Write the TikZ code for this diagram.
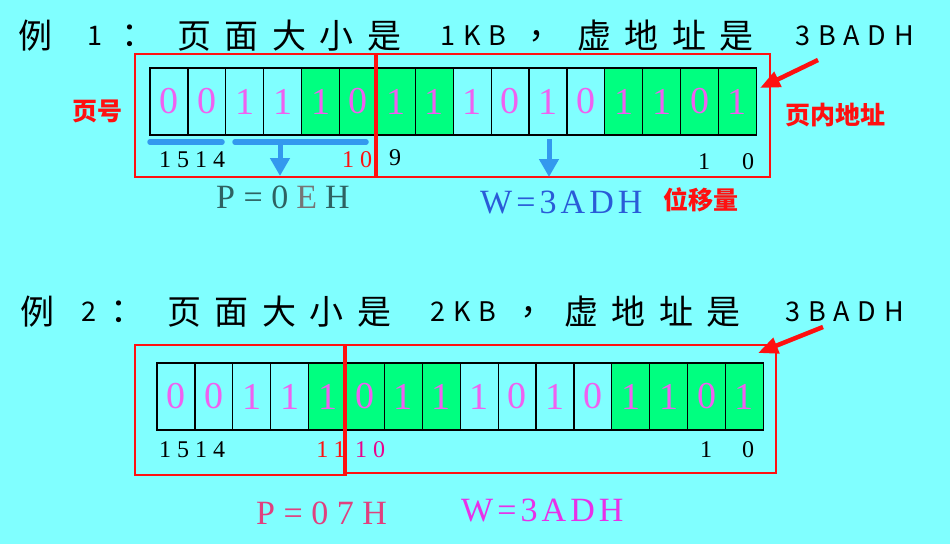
\documentclass[tikz,border=0pt]{standalone}
\usepackage{fontspec}
\usepackage{tikz}
\usetikzlibrary{positioning, arrows.meta}
\newfontfamily\cjk{Noto Sans CJK SC}
\newfontfamily\cjkwide[LetterSpace=40]{Noto Sans CJK SC}
\newfontfamily\cjklat[LetterSpace=29]{Noto Sans CJK SC}
\newfontfamily\serifwide[LetterSpace=25]{Liberation Serif}
\newfontfamily\seriftight[LetterSpace=12]{Liberation Serif}
\newfontfamily\digitfont{Liberation Serif}
\definecolor{bgcyan}{HTML}{80FFFF}
\definecolor{cellgreen}{HTML}{00FF80}
\definecolor{bitpink}{HTML}{F060F0}
\definecolor{boxred}{HTML}{FF1010}
\definecolor{barblue}{HTML}{3399EE}
\definecolor{pteal}{HTML}{2E6262}
\definecolor{pgray}{HTML}{767676}
\definecolor{wblue}{HTML}{2A5BD7}
\definecolor{pred}{HTML}{E0407F}
\definecolor{wmag}{HTML}{E830E8}

\tikzset{
  cell/.style={draw, line width=1.2pt, minimum width=37.9pt, minimum height=67pt,
    inner sep=0pt, outer sep=0pt, text=bitpink, font=\digitfont\fontsize{38}{38}\selectfont},
  lit/.style={cell, fill=bgcyan},
  grn/.style={cell, fill=cellgreen},
  ttl/.style={inner sep=0pt, font=\cjkwide\fontsize{34}{34}\selectfont},
  ttlat/.style={inner sep=0pt, font=\cjklat\fontsize{27}{27}\selectfont},
  bitno/.style={inner sep=0pt, font=\serifwide\fontsize{24}{24}\selectfont},
  result/.style={inner sep=0pt, anchor=west, font=\serifwide\fontsize{34}{34}\selectfont},
  wresult/.style={inner sep=0pt, anchor=west, font=\seriftight\fontsize{34}{34}\selectfont},
  tag/.style={inner sep=0pt, text=boxred, font=\cjk\bfseries\fontsize{25}{25}\selectfont},
  redbox/.style={draw=boxred, line width=2.5pt},
  divider/.style={draw=boxred, line width=4.5pt},
  ubar/.style={draw=barblue, line width=5.5pt, line cap=round},
  barrow/.style={draw=barblue, line width=5pt, -{Triangle[length=18pt,width=19pt]}},
  rarrow/.style={draw=boxred, line width=4.5pt, -{Triangle[length=20pt,width=16pt]}}
}

\begin{document}
\begin{tikzpicture}[x=1pt, y=-1pt]
  \fill[bgcyan] (0,0) rectangle (950,544);
  \useasboundingbox (0,0) rectangle (950,544);

  % example 1
  \node[ttl, anchor=west]   (t1a) at (18,36)  {例};
  \node[ttlat, anchor=west] (t1b) at (87,36)  {1};
  \node[ttl]                (t1c) at (138,36) {：};
  \node[ttl, anchor=west]   (t1d) at (177,36) {页面大小是};
  \node[ttlat, anchor=west] (t1e) at (440,36) {1KB};
  \node[ttl]                (t1f) at (545,36) {，};
  \node[ttl, anchor=west]   (t1g) at (577,36) {虚地址是};
  \node[ttlat, anchor=west] (t1h) at (795,36) {3BADH};

  \node[lit] (a0) at (168.95,101.5) {0};
  \node[lit, right=0pt of a0]  (a1)  {0};
  \node[lit, right=0pt of a1]  (a2)  {1};
  \node[lit, right=0pt of a2]  (a3)  {1};
  \node[grn, right=0pt of a3]  (a4)  {1};
  \node[grn, right=0pt of a4]  (a5)  {0};
  \node[grn, right=0pt of a5]  (a6)  {1};
  \node[grn, right=0pt of a6]  (a7)  {1};
  \node[lit, right=0pt of a7]  (a8)  {1};
  \node[lit, right=0pt of a8]  (a9)  {0};
  \node[lit, right=0pt of a9]  (a10) {1};
  \node[lit, right=0pt of a10] (a11) {0};
  \node[grn, right=0pt of a11] (a12) {1};
  \node[grn, right=0pt of a12] (a13) {1};
  \node[grn, right=0pt of a13] (a14) {0};
  \node[grn, right=0pt of a14] (a15) {1};

  \draw[redbox] (135,54) rectangle (376,177);
  \draw[redbox] (376,54) rectangle (770,177);
  \draw[divider] (376,53) -- (376,178);

  \coordinate (u1s) at (150,142);
  \coordinate (u1e) at (222,142);
  \coordinate (u2s) at (235,142);
  \coordinate (u2e) at (366,142);
  \draw[ubar] (u1s) -- (u1e);
  \draw[ubar] (u2s) -- (u2e);
  \coordinate (p1top) at (280,142);
  \coordinate (p1tip) at (280,176);
  \draw[barrow] (p1top) -- (p1tip);
  \coordinate (w1top) at (549,139);
  \coordinate (w1tip) at (549,177);
  \draw[barrow] (w1top) -- (w1tip);

  \node[bitno] (n1a) at (192,160) {1514};
  \node[bitno, text=boxred] (n1b) at (357,160) {10};
  \node[bitno] (n1c) at (395,158) {9};
  \node[bitno] (n1d) at (704,162) {1};
  \node[bitno] (n1e) at (748,162) {0};

  \node[result, text=pteal] (pg1) at (216,197) {P=0\kern8pt\textcolor{pgray}{E}\kern8pt H};
  \node[wresult, text=wblue] (wd1) at (480,202) {W=3ADH};

  \node[tag] (lab1) at (97,111)  {页号};
  \node[tag] (lab2) at (835,115) {页内地址};
  \node[tag] (lab3) at (701,200) {位移量};

  \coordinate (r1s) at (818,60);
  \coordinate (r1t) at (760,88);
  \draw[rarrow] (r1s) -- (r1t);

  % example 2
  \node[ttl, anchor=west]   (t2a) at (20,312)  {例};
  \node[ttlat, anchor=west] (t2b) at (81,312)  {2};
  \node[ttl]                (t2c) at (127,312) {：};
  \node[ttl, anchor=west]   (t2d) at (167,312) {页面大小是};
  \node[ttlat, anchor=west] (t2e) at (430,312) {2KB};
  \node[ttl]                (t2f) at (537,312) {，};
  \node[ttl, anchor=west]   (t2g) at (564,312) {虚地址是};
  \node[ttlat, anchor=west] (t2h) at (785,312) {3BADH};

  \node[lit] (b0) at (175.95,396.5) {0};
  \node[lit, right=0pt of b0]  (b1)  {0};
  \node[lit, right=0pt of b1]  (b2)  {1};
  \node[lit, right=0pt of b2]  (b3)  {1};
  \node[grn, right=0pt of b3]  (b4)  {1};
  \node[grn, right=0pt of b4]  (b5)  {0};
  \node[grn, right=0pt of b5]  (b6)  {1};
  \node[grn, right=0pt of b6]  (b7)  {1};
  \node[lit, right=0pt of b7]  (b8)  {1};
  \node[lit, right=0pt of b8]  (b9)  {0};
  \node[lit, right=0pt of b9]  (b10) {1};
  \node[lit, right=0pt of b10] (b11) {0};
  \node[grn, right=0pt of b11] (b12) {1};
  \node[grn, right=0pt of b12] (b13) {1};
  \node[grn, right=0pt of b13] (b14) {0};
  \node[grn, right=0pt of b14] (b15) {1};

  \draw[redbox] (135,345) rectangle (345,475);
  \draw[redbox] (345,345) rectangle (776,473);
  \draw[divider] (345,344) -- (345,476);

  \node[bitno] (n2a) at (192,450) {1514};
  \node[bitno, text=boxred] (n2b) at (331,450) {11};
  \node[bitno, text=magenta] (n2c) at (370,450) {10};
  \node[bitno] (n2d) at (706,450) {1};
  \node[bitno] (n2e) at (748,450) {0};

  \node[result, text=pred] (pg2) at (256,513) {P=07H};
  \node[wresult, text=wmag] (wd2) at (461,510) {W=3ADH};

  \coordinate (r2s) at (823,327);
  \coordinate (r2t) at (758,353);
  \draw[rarrow] (r2s) -- (r2t);
\end{tikzpicture}
\end{document}
